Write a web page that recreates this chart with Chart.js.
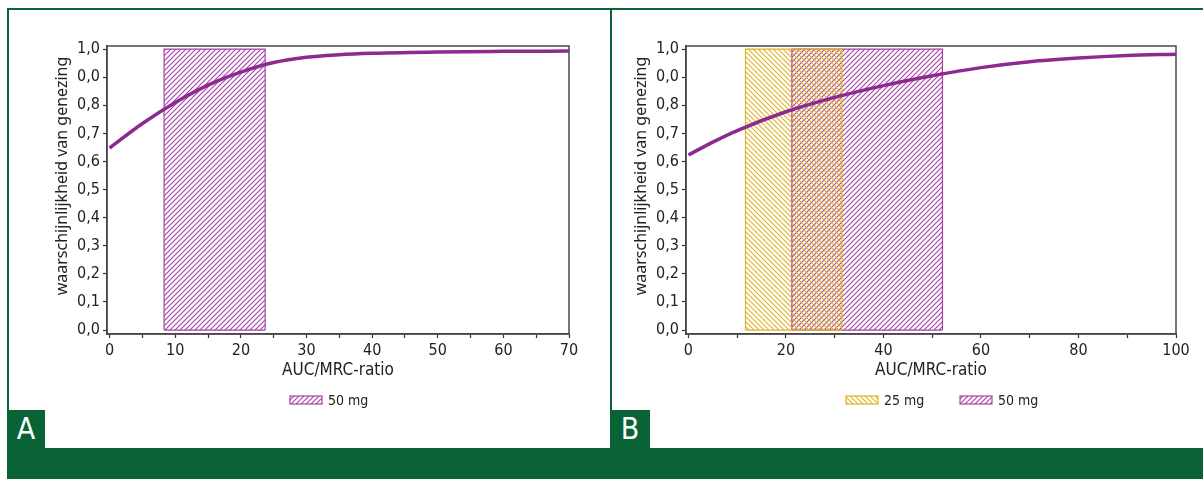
<!DOCTYPE html>
<html>
<head>
<meta charset="utf-8">
<script src="https://cdn.jsdelivr.net/npm/chart.js@4.4.1/dist/chart.umd.min.js"></script>
<style>
  body { margin: 0; background: #fff; width: 1203px; height: 479px; position: relative; overflow: hidden; }
  canvas { position: absolute; top: 0; }
  .g { position: absolute; background: #0a6334; z-index: 5; }
  .tag { position: absolute; z-index: 6; background: #0a6334; color: #fff;
         font-family: "Liberation Sans Narrow", "DejaVu Sans Condensed", sans-serif;
         font-size: 30px; line-height: 38px; text-align: center; }
</style>
</head>
<body>
<canvas id="chartA" width="611" height="448" style="left:0px"></canvas>
<canvas id="chartB" width="624" height="448" style="left:579px"></canvas>

<div class="g" style="left:7px;top:8px;width:1196px;height:2px"></div>
<div class="g" style="left:7px;top:8px;width:2px;height:440px"></div>
<div class="g" style="left:610px;top:8px;width:2px;height:440px"></div>
<div class="g" style="left:7px;top:448px;width:1196px;height:31px"></div>
<div class="tag" style="left:7px;top:410px;width:38px;height:38px">A</div>
<div class="tag" style="left:610px;top:410px;width:40px;height:38px">B</div>

<script>
// y axis (same in both panels) - the original prints "0,0" at 0.9
const yTickValues = [0, 0.1, 0.2, 0.3, 0.4, 0.5, 0.6, 0.7, 0.8, 0.9, 1.0]
const yTickLabels = ["0,0", "0,1", "0,2", "0,3", "0,4", "0,5", "0,6", "0,7", "0,8", "0,0", "1,0"]

// panel A
const xMajorA = [0, 10, 20, 30, 40, 50, 60, 70]
const xMinorA = [5, 15, 25, 35, 45, 55, 65]
const curveAx = [0, 5, 10, 15, 20, 25, 30, 35, 40, 50, 60, 70]
const curveAy = [0.648, 0.735, 0.81, 0.872, 0.918, 0.952, 0.971, 0.98, 0.985, 0.99, 0.992, 0.993]
const rangeA50 = [8.3, 23.7]

// panel B
const xMajorB = [0, 20, 40, 60, 80, 100]
const xMinorB = [10, 30, 50, 70, 90]
const curveBx = [0, 5, 10, 20, 30, 40, 50, 60, 70, 80, 90, 100]
const curveBy = [0.623, 0.669, 0.71, 0.777, 0.828, 0.87, 0.905, 0.934, 0.955, 0.968, 0.977, 0.982]
const rangeB25 = [11.7, 31.5]
const rangeB50 = [21.2, 52.1]

const PURPLE = "#8e2a8f"
const HATCH_PURPLE = "#a541a5"
const HATCH_YELLOW = "#e0b225"
const NARROW = '"Liberation Sans Narrow", "DejaVu Sans Condensed", sans-serif'

function hatch(color, dir) {
  const s = 5
  const c = document.createElement("canvas")
  c.width = s
  c.height = s
  const g = c.getContext("2d")
  g.strokeStyle = color
  g.lineWidth = 1.1
  g.beginPath()
  for (let k = -1; k <= 1; k++) {
    if (dir > 0) {
      g.moveTo(k * s - 1, s + 1)
      g.lineTo(k * s + s + 1, -1)
    } else {
      g.moveTo(k * s - 1, -1)
      g.lineTo(k * s + s + 1, s + 1)
    }
  }
  g.stroke()
  return g.createPattern(c, "repeat")
}

function points(xs, ys) {
  return xs.map((x, i) => ({ x: x, y: ys[i] }))
}

function curveDataset(xs, ys) {
  return {
    label: "",
    data: points(xs, ys),
    borderColor: PURPLE,
    borderWidth: 3.5,
    pointRadius: 0,
    fill: false,
    cubicInterpolationMode: "monotone",
  }
}

// hatched box spanning the range, full height 0..1 (outline + fill)
function rangeDatasets(label, r, color, dir) {
  return [
    {
      label: label,
      data: points([r[0], r[0], r[1], r[1]], [0, 1, 1, 0]),
      borderColor: color,
      borderWidth: 1.2,
      backgroundColor: hatch(color, dir),
      fill: "origin",
      pointRadius: 0,
      tension: 0,
    },
    {
      label: "",
      data: points([r[0], r[1]], [0, 0]),
      borderColor: color,
      borderWidth: 1.2,
      pointRadius: 0,
      fill: false,
    },
  ]
}

const framePlugin = {
  id: "frame",
  beforeDatasetsDraw(chart) {
    const a = chart.chartArea
    const ctx = chart.ctx
    ctx.save()
    ctx.strokeStyle = "#4a4a4a"
    ctx.lineWidth = 1.5
    ctx.strokeRect(a.left, a.top, a.right - a.left, a.bottom - a.top)
    ctx.restore()
  },
}

// legend row with the hatched swatches
const hatchLegend = {
  id: "hatchLegend",
  afterDraw(chart, args, opts) {
    const ctx = chart.ctx
    let x = opts.x
    ctx.save()
    ctx.font = "14px " + NARROW
    ctx.textBaseline = "middle"
    chart.data.datasets.forEach((ds) => {
      if (!ds.label) return
      ctx.fillStyle = ds.backgroundColor
      ctx.fillRect(x, opts.y - 4, 32, 8)
      ctx.strokeStyle = ds.borderColor
      ctx.lineWidth = 1.2
      ctx.strokeRect(x, opts.y - 4, 32, 8)
      ctx.fillStyle = "#222"
      ctx.fillText(ds.label, x + 38, opts.y + 1)
      x += opts.gap
    })
    ctx.restore()
  },
}

function makeChart(id, opts) {
  const padLeft = 40
  const areaLeft = 107, areaTop = 46, areaBottom = 334
  const xAxisBottom = 385
  const xTitleLine = 17 * 1.2

  const majors = opts.xMajor
  const allX = majors.concat(opts.xMinor).sort((a, b) => a - b)

  return new Chart(document.getElementById(id), {
    type: "line",
    data: { datasets: opts.datasets },
    plugins: [framePlugin, hatchLegend],
    options: {
      responsive: false,
      animation: false,
      layout: { padding: { left: padLeft, right: opts.padRight, top: areaTop, bottom: 448 - xAxisBottom } },
      plugins: {
        legend: { display: false },
        tooltip: { enabled: false },
        hatchLegend: opts.legend,
      },
      scales: {
        x: {
          type: "linear",
          min: opts.xMin,
          max: opts.xMax,
          afterBuildTicks: (scale) => { scale.ticks = allX.map((v) => ({ value: v })) },
          afterFit: (scale) => { scale.height = xAxisBottom - areaBottom },
          ticks: {
            autoSkip: false,
            maxRotation: 0,
            padding: 3,
            color: "#222",
            font: { family: NARROW, size: 16 },
            callback: (v) => (majors.includes(v) ? String(v) : ""),
          },
          grid: { drawOnChartArea: false, tickLength: 4, tickColor: "#333", tickWidth: 1.2 },
          border: { color: "#3a3a3a", width: 1.5 },
          title: {
            display: true,
            text: "AUC/MRC-ratio",
            color: "#222",
            font: { family: NARROW, size: 17 },
            padding: { top: 0, bottom: xAxisBottom - 371 - xTitleLine / 2 },
          },
        },
        y: {
          min: -0.014,
          max: 1.011,
          afterBuildTicks: (scale) => { scale.ticks = yTickValues.map((v) => ({ value: v })) },
          afterFit: (scale) => { scale.width = areaLeft - padLeft },
          ticks: {
            autoSkip: false,
            padding: 3,
            color: "#222",
            font: { family: NARROW, size: 16 },
            callback: (v, i) => yTickLabels[i],
          },
          grid: { drawOnChartArea: false, tickLength: 4, tickColor: "#333", tickWidth: 1.2 },
          border: { color: "#3a3a3a", width: 1.5 },
          title: {
            display: true,
            text: "waarschijnlijkheid van genezing\u2002\u2009",
            align: "end",
            color: "#222",
            font: { family: '"Noto Sans", sans-serif', size: 16 },
            padding: { top: 62 - padLeft - 16 * 1.2 / 2, bottom: 0 },
          },
        },
      },
    },
  })
}

makeChart("chartA", {
  padRight: 42,
  xMin: -0.4,
  xMax: 70,
  xMajor: xMajorA,
  xMinor: xMinorA,
  legend: { x: 290, y: 400, gap: 114 },
  datasets: [curveDataset(curveAx, curveAy)].concat(
    rangeDatasets("50 mg", rangeA50, HATCH_PURPLE, 1)
  ),
})

makeChart("chartB", {
  padRight: 27,
  xMin: -0.5,
  xMax: 100,
  xMajor: xMajorB,
  xMinor: xMinorB,
  legend: { x: 267, y: 400, gap: 114 },
  datasets: [curveDataset(curveBx, curveBy)].concat(
    rangeDatasets("25 mg", rangeB25, HATCH_YELLOW, -1),
    rangeDatasets("50 mg", rangeB50, HATCH_PURPLE, 1)
  ),
})
</script>
</body>
</html>
